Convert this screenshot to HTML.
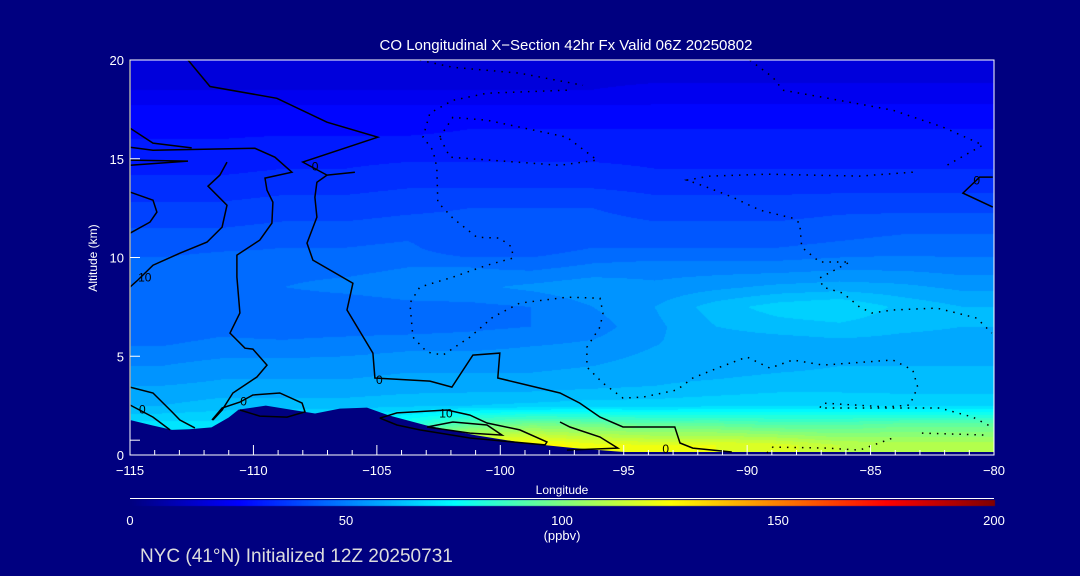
<!DOCTYPE html>
<html><head><meta charset="utf-8"><style>
html,body{margin:0;padding:0;background:#000080;}
#wrap{position:relative;width:1080px;height:576px;overflow:hidden;background:#000080;font-family:"Liberation Sans",sans-serif;}
canvas,svg{position:absolute;left:0;top:0;}
</style></head><body>
<div id="wrap">
<canvas id="cv" width="1080" height="576"></canvas>
<svg id="sv" width="1080" height="576"></svg>
</div>
<script>
// ---- data ----
const lonCenters=[-113.75,-111.25,-108.75,-106.25,-103.75,-101.25,-98.75,-96.25,-93.75,-91.25,-88.75,-86.25,-83.75,-81.25];
const altCenters=[19.5,18.5,17.5,16.5,15.5,14.5,13.5,12.5,11.5,10.5,9.5,8.5,7.5,6.5,5.5,4.5,3.5,2.5,1.5,0.5];
const coValues=[
[17,17,18,18,18,18,18,18,18,18,18,18,18,18],
[20,20,20,20,20,20,20,20,21,21,21,21,21,21],
[25,25,25,25,25,25,25,25,25,25,25,25,25,25],
[27,27,27,27,27,28,28,28,28,28,28,28,28,28],
[29,29,30,30,30,30,30,30,30,30,30,30,30,30],
[31,31,32,32,33,33,33,33,32,32,32,32,32,32],
[34,34,35,35,36,36,36,36,35,35,35,35,35,35],
[37,37,38,38,39,40,40,40,38,38,38,39,39,39],
[40,40,41,41,42,42,42,42,41,41,41,42,43,43],
[42,43,44,44,45,40,41,44,44,44,44,45,46,46],
[46,48,47,47,48,48,47,49,50,50,50,51,51,50],
[47,47,48,49,50,51,53,55,53,55,57,58,57,55],
[46,47,46,46,47,47,48,52,56,62,66,68,63,60],
[46,47,46,46,46,47,48,50,55,60,62,63,61,60],
[48,49,49,50,51,51,52,53,56,57,57,58,58,58],
[52,54,54,54,55,55,55,56,58,58,59,60,60,60],
[56,57,57,57,58,58,58,59,60,61,62,62,62,62],
[60,62,62,62,63,64,65,66,66,67,68,68,67,67],
[70,70,72,74,82,95,100,98,95,95,92,92,95,95],
[75,78,85,90,115,128,128,122,120,120,118,112,110,110]];
const terrainLon=[-115,-114.1,-113.3,-112.6,-111.7,-111,-110.6,-109.5,-108.5,-107.5,-106.5,-105.4,-104.5,-103,-101,-99,-97,-95,-90,-85,-80];
const terrainAlt=[1.77,1.5,1.27,1.3,1.4,1.9,2.3,2.5,2.3,2.1,2.35,2.4,2.0,1.5,1.0,0.6,0.35,0.15,0.15,0.15,0.15];
const xTicks=[-115,-110,-105,-100,-95,-90,-85,-80];
const yTicks=[0,5,10,15,20];
const cbTicks=[0,50,100,150,200];
const solidContours=[
[[-112.65,20],[-111.76,18.66],[-109.05,18.06],[-107.02,16.85],[-104.96,16.09],[-108.0,14.83],[-107.02,14.17],[-105.89,14.32]],
[[-107.02,14.17],[-107.43,13.81],[-107.51,13.05],[-107.43,12.04],[-107.83,10.73],[-107.59,9.87],[-105.97,8.7],[-106.21,7.34],[-105.16,5.16],[-105.08,3.9],[-102.85,3.74],[-101.96,3.44],[-101.11,5.06],[-100.02,5.16],[-100.1,3.9],[-97.58,3.14],[-96.78,2.63],[-95.96,1.92],[-95.03,1.42],[-92.93,1.42],[-92.72,0.61],[-92.2,0.35],[-90.62,0.15]],
[[-115,15.58],[-114.07,15.43],[-109.94,15.53],[-109.13,15.08],[-108.44,14.32],[-109.53,14.02],[-109.45,13.41],[-109.21,12.8],[-109.25,11.74],[-109.74,10.88],[-110.67,10.12],[-110.67,9.01],[-110.55,7.19],[-110.95,6.17],[-110.34,5.41],[-110.02,5.36],[-109.45,4.55],[-109.86,3.95],[-110.83,3.14],[-111.27,2.28],[-111.64,1.77]],
[[-115,16.55],[-114.07,15.79],[-112.5,15.55]],
[[-115,14.93],[-112.65,14.88],[-115,14.67]],
[[-115,13.31],[-114.07,12.9],[-113.91,12.3],[-114.19,11.79],[-115,11.23]],
[[-111.07,14.83],[-111.36,14.17],[-111.84,13.61],[-111.07,12.65],[-111.27,11.54],[-111.88,10.78],[-112.98,10.22],[-114.07,9.61],[-114.68,8.86],[-115,8.5]],
[[-115,3.44],[-114.07,3.14],[-113.3,2.18],[-112.98,1.77],[-112.37,1.37]],
[[-115,2.53],[-114.07,1.92],[-113.38,1.27]],
[[-111.68,1.77],[-111.27,2.38],[-110.55,2.68],[-110.02,3.04],[-108.93,3.14],[-108.03,2.63],[-107.91,2.18],[-108.64,1.92],[-109.74,1.97],[-110.55,2.28]],
[[-104.88,1.87],[-104.19,2.13],[-102.16,2.28],[-101.23,2.02],[-100.54,1.62],[-99.21,1.27],[-98.11,0.66],[-98.19,0.51],[-101.23,0.86],[-103.26,1.27],[-104.19,1.52],[-104.88,1.87]],
[[-102.97,1.42],[-101.92,1.67],[-100.54,1.52],[-99.93,1.01],[-101.23,1.11],[-102.97,1.42]],
[[-97.58,1.67],[-97.18,1.42],[-95.96,0.91],[-95.24,0.35],[-97.3,0.25]],
[[-80.05,14.07],[-80.58,14.07],[-81.26,13.26],[-80.05,12.55]],
[[-115,20],[-115,1.77]]];
const dottedContours=[
[[-89.89,19.99],[-88.96,19.13],[-88.55,18.47],[-86.93,18.11],[-84.1,17.46],[-82.07,16.6],[-80.45,15.69],[-81.91,14.67]],
[[-103.26,19.99],[-101.92,19.63],[-99.21,19.33],[-96.65,18.72]],
[[-97.3,18.47],[-100.54,18.32],[-101.92,17.96],[-102.85,17.31],[-103.13,16.09],[-102.73,15.43],[-102.57,14.57],[-102.53,12.8],[-101.92,11.99],[-100.95,11.03],[-100.02,10.98],[-99.53,10.52],[-99.49,9.97],[-100.54,9.61],[-101.92,9.01],[-103.26,8.5],[-103.66,7.69],[-103.54,5.97],[-102.97,5.21],[-102.32,5.06],[-101.23,5.97],[-100.3,6.98],[-99.21,7.69],[-97.3,7.99],[-95.96,7.94],[-95.84,7.19],[-95.96,6.48],[-96.49,5.46],[-96.49,4.45],[-95.84,3.64],[-95.03,2.88],[-94.22,2.93],[-92.85,3.29],[-92.2,3.9],[-91.1,4.45],[-90.01,4.96],[-89.08,4.4],[-88.15,4.81],[-86.93,4.55],[-84.1,4.81],[-83.29,4.3],[-83.09,3.44],[-83.41,2.53],[-84.34,2.43],[-86.93,2.63],[-87.06,2.38],[-82.2,2.38],[-80.86,1.92],[-80.09,1.42]],
[[-102.45,16.09],[-101.92,17.1],[-100.54,16.95],[-97.3,16.09],[-96.08,14.93],[-97.58,14.67],[-102.04,15.08],[-102.45,16.09]],
[[-83.29,14.32],[-85.44,14.12],[-89.2,14.22],[-91.51,14.12],[-92.44,13.92],[-91.63,13.56],[-90.58,13.05],[-89.49,12.4],[-88.15,11.99],[-87.87,11.74],[-87.79,10.52],[-87.06,9.77],[-85.84,9.77],[-87.06,8.96],[-86.93,8.5],[-86.12,8.2],[-85.44,7.49],[-84.95,7.19],[-84.1,7.34],[-82.32,7.44],[-81.51,7.19],[-80.7,6.93],[-80.09,6.17]],
[[-89.2,0.1],[-88.96,0.4],[-86.77,0.35],[-85.44,0.25],[-84.1,0.86]],
[[-82.92,1.11],[-80.29,1.01]]];
const contourLabels=[["0",-104.9,3.8],["0",-107.5,14.6],["0",-114.5,2.3],["0",-110.4,2.7],["0",-93.3,0.3],["0",-80.7,13.9],["10",-114.4,9.0],["10",-102.2,2.1]];

// ---- axes ----
const PX0=130,PX1=994,PY0=60,PY1=455;
const LON0=-115,LON1=-80,ALT0=0,ALT1=20;
function xS(lon){return PX0+(lon-LON0)/(LON1-LON0)*(PX1-PX0);}
function yS(alt){return PY1-(alt-ALT0)/(ALT1-ALT0)*(PY1-PY0);}
function xInv(px){return LON0+(px-PX0)/(PX1-PX0)*(LON1-LON0);}
function yInv(py){return ALT0+(PY1-py)/(PY1-PY0)*(ALT1-ALT0);}
function jet(v){const t=Math.max(0,Math.min(1,v/200));const c=x=>Math.round(255*Math.max(0,Math.min(1,x)));
 return [c(1.5-Math.abs(4*t-3)),c(1.5-Math.abs(4*t-2)),c(1.5-Math.abs(4*t-1))];}
function interp(arr,v){
 if(arr[0]<arr[arr.length-1]){ if(v<=arr[0])return 0; for(let i=0;i<arr.length-1;i++){if(v<=arr[i+1])return i+(v-arr[i])/(arr[i+1]-arr[i]);} return arr.length-1;}
 else { if(v>=arr[0])return 0; for(let i=0;i<arr.length-1;i++){if(v>=arr[i+1])return i+(arr[i]-v)/(arr[i]-arr[i+1]);} return arr.length-1;}
}
function field(lon,alt){
 const fi=interp(lonCenters,lon),fj=interp(altCenters,alt);
 const i0=Math.floor(fi),j0=Math.floor(fj),i1=Math.min(i0+1,lonCenters.length-1),j1=Math.min(j0+1,altCenters.length-1);
 const a=fi-i0,b=fj-j0;
 return (coValues[j0][i0]*(1-a)+coValues[j0][i1]*a)*(1-b)+(coValues[j1][i0]*(1-a)+coValues[j1][i1]*a)*b;
}
const cv=document.getElementById('cv');const ctx=cv.getContext('2d');
const W=PX1-PX0,H=PY1-PY0;const img=ctx.createImageData(W,H);
for(let py=0;py<H;py++){const alt=yInv(PY0+py+0.5);
 for(let px=0;px<W;px++){const lon=xInv(PX0+px+0.5);
  let v=field(lon,alt);v=Math.floor(v/4)*4+2;const c=jet(v);const k=(py*W+px)*4;
  img.data[k]=c[0];img.data[k+1]=c[1];img.data[k+2]=c[2];img.data[k+3]=255;}}
ctx.putImageData(img,PX0,PY0);
for(let x=PX0;x<=PX1;x++){const c=jet((x-PX0)/(PX1-PX0)*200);ctx.fillStyle=`rgb(${c[0]},${c[1]},${c[2]})`;ctx.fillRect(x,500,1,6);}

const NS='http://www.w3.org/2000/svg';const sv=document.getElementById('sv');
function mk(tag,attrs,parent){const e=document.createElementNS(NS,tag);for(const k in attrs)e.setAttribute(k,attrs[k]);(parent||sv).appendChild(e);return e;}
function pts(arr){return arr.map(p=>xS(p[0]).toFixed(1)+','+yS(p[1]).toFixed(1)).join(' ');}
let tp=terrainLon.map((l,i)=>[l,terrainAlt[i]]);
const terr=mk('polygon',{points:pts(tp)+' '+xS(-80)+','+PY1+' '+xS(-115)+','+PY1,fill:'#000080'});


solidContours.forEach(c=>{const e=mk('polyline',{points:pts(c),fill:'none',stroke:'#000','stroke-width':1.5});
 
 });
dottedContours.forEach(c=>{const e=mk('polyline',{points:pts(c),fill:'none',stroke:'#000','stroke-width':1.5,'stroke-dasharray':'1.5 6'});
 
 });
contourLabels.forEach(l=>{const e=mk('text',{x:xS(l[1]),y:yS(l[2])+4,'font-size':12,fill:'#000','text-anchor':'middle'});e.textContent=l[0];
 
 });
const fr=mk('rect',{x:PX0,y:PY0,width:W,height:H,fill:'none',stroke:'#fff','stroke-width':1});


for(let l=LON0;l<=LON1;l++){const maj=(l%5===0);mk('line',{x1:xS(l),x2:xS(l),y1:PY1,y2:PY1-(maj?10:5),stroke:'#fff','stroke-width':1});}
xTicks.forEach(t=>{const e=mk('text',{x:xS(t),y:475,'font-size':13,fill:'#fff','text-anchor':'middle'});e.textContent=(t<0?'\u2212':'')+Math.abs(t);
 
 });
yTicks.forEach(t=>{mk('line',{x1:PX0,x2:PX0+10,y1:yS(t),y2:yS(t),stroke:'#fff'});
 const e=mk('text',{x:124,y:yS(t)+5,'font-size':13,fill:'#fff','text-anchor':'end'});e.textContent=t;
 
 });
mk('line',{x1:PX0,x2:PX0+10,y1:yS(0.75),y2:yS(0.75),stroke:'#fff'});
const tt=mk('text',{x:566,y:50,'font-size':15,fill:'#fff','text-anchor':'middle'});tt.textContent='CO Longitudinal X\u2212Section 42hr  Fx Valid 06Z 20250802';

const xt=mk('text',{x:562,y:494,'font-size':12,fill:'#fff','text-anchor':'middle'});xt.textContent='Longitude';

const yt=mk('text',{x:97,y:258,'font-size':12,fill:'#fff','text-anchor':'middle',transform:'rotate(-90 97 258)'});yt.textContent='Altitude (km)';

const cbl=mk('line',{x1:PX0,x2:PX1,y1:498.5,y2:498.5,stroke:'#fff','stroke-width':1});

cbTicks.forEach(t=>{const e=mk('text',{x:PX0+t/200*W,y:525,'font-size':13,fill:'#fff','text-anchor':'middle'});e.textContent=t;
 
 });
const un=mk('text',{x:562,y:540,'font-size':13,fill:'#fff','text-anchor':'middle'});un.textContent='(ppbv)';

const ft=mk('text',{x:140,y:562,'font-size':19,fill:'#ddd'});ft.textContent='NYC (41\u00b0N) Initialized 12Z 20250731';

</script>
</body></html>
